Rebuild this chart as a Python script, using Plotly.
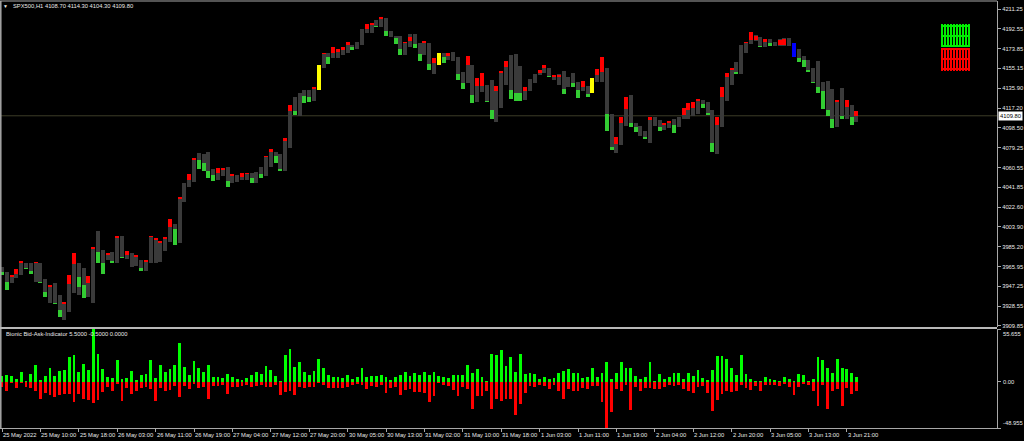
import plotly.graph_objects as go

# ---------------- data ----------------
symbol_title = "SPX500,H1 4108.70 4114.30 4104.30 4109.80"
indicator_title = "Bionic Bid-Ask-Indicator 5.5000 -0.5000 0.0000"
last_price = 4109.80

x_labels = ["25 May 2022", "25 May 10:00", "25 May 18:00", "26 May 03:00", "26 May 11:00",
            "26 May 19:00", "27 May 04:00", "27 May 12:00", "27 May 20:00", "30 May 05:00",
            "30 May 13:00", "31 May 02:00", "31 May 10:00", "31 May 18:00", "1 Jun 03:00",
            "1 Jun 11:00", "1 Jun 19:00", "2 Jun 04:00", "2 Jun 12:00", "2 Jun 20:00",
            "3 Jun 05:00", "3 Jun 13:00", "3 Jun 21:00"]
label_every = 8

price_ticks = [4211.25, 4192.55, 4173.85, 4155.15, 4135.90, 4117.20, 4098.50, 4079.25,
               4060.55, 4041.85, 4022.60, 4003.90, 3985.20, 3965.95, 3947.25, 3928.55, 3909.85]
ind_max = 55.655
ind_min = -48.955

high = [3966.1,3961.3,3958.2,3963.5,3971.5,3969.3,3969.3,3970.9,3969.9,3954.0,
        3948.6,3950.3,3939.1,3932.8,3958.2,3978.8,3969.3,3964.5,3957.2,3984.5,
        4000.1,3982.0,3978.8,3980.4,3995.3,3995.3,3981.3,3978.8,3977.2,3972.5,
        3972.5,3995.3,3993.1,3990.9,3994.0,4011.2,4006.7,4032.8,4045.5,4054.4,
        4069.3,4074.7,4073.4,4075.3,4058.8,4059.8,4059.8,4061.4,4054.4,4053.4,
        4055.0,4055.6,4055.6,4056.6,4060.7,4071.5,4077.9,4075.6,4073.4,4088.3,
        4120.1,4127.4,4131.8,4134.4,4134.4,4136.9,4158.2,4169.9,4169.3,4175.0,
        4173.1,4175.7,4180.4,4177.2,4180.4,4192.2,4197.2,4198.5,4201.1,4204.2,
        4202.6,4190.9,4185.8,4185.8,4180.4,4187.7,4187.7,4179.5,4181.4,4178.8,
        4164.5,4169.3,4169.9,4169.3,4170.9,4165.5,4151.8,4166.8,4158.2,4145.5,
        4150.3,4139.1,4143.9,4138.2,4152.8,4162.3,4167.7,4168.7,4157.2,4136.9,
        4144.5,4149.6,4153.4,4158.2,4155.0,4148.7,4149.6,4152.8,4146.4,4150.9,
        4142.3,4143.3,4138.2,4145.5,4154.1,4166.1,4155.0,4111.5,4089.9,4108.3,
        4127.4,4129.6,4103.3,4100.1,4095.6,4108.3,4108.3,4105.8,4103.3,4105.2,
        4106.4,4108.3,4116.9,4122.3,4123.3,4125.5,4124.9,4123.3,4115.3,4108.3,
        4136.9,4150.3,4155.0,4161.4,4177.2,4180.4,4189.9,4186.8,4185.2,4182.6,
        4182.6,4180.4,4182.6,4183.6,4183.6,4178.8,4173.1,4166.8,4163.0,4155.0,
        4162.3,4142.3,4143.3,4135.0,4124.9,4136.0,4124.9,4120.1,4114.3]

low = [3958.2,3943.9,3950.9,3955.0,3958.2,3963.5,3959.1,3951.8,3950.3,3937.5,
       3931.8,3930.5,3917.8,3915.3,3923.2,3940.7,3939.1,3935.9,3937.5,3931.2,
       3969.3,3959.1,3972.5,3969.9,3969.9,3974.0,3973.1,3966.1,3966.7,3962.3,
       3962.3,3969.3,3969.9,3970.9,3981.3,3989.9,3986.7,3989.0,4028.0,4041.7,
       4047.1,4058.8,4057.5,4050.2,4048.0,4048.7,4052.5,4042.3,4046.1,4047.1,
       4048.7,4048.7,4046.1,4046.1,4050.2,4052.5,4061.4,4065.2,4057.5,4057.5,
       4078.8,4110.6,4109.6,4122.3,4123.3,4124.2,4134.4,4155.0,4159.1,4164.5,
       4164.5,4167.7,4169.3,4172.5,4173.1,4177.2,4188.4,4189.0,4194.1,4194.1,
       4185.8,4184.5,4178.2,4167.7,4167.7,4175.0,4174.1,4162.3,4167.7,4153.4,
       4149.6,4158.2,4160.4,4163.0,4162.3,4143.9,4135.0,4140.8,4122.3,4123.3,
       4132.8,4123.3,4106.4,4104.2,4116.9,4139.1,4125.5,4124.2,4124.2,4124.9,
       4133.7,4140.8,4148.7,4150.3,4146.4,4143.9,4139.1,4130.6,4136.9,4136.9,
       4126.4,4133.7,4127.4,4131.2,4142.3,4142.3,4095.6,4077.2,4074.1,4082.0,
       4100.1,4099.5,4094.7,4090.6,4087.4,4084.2,4100.1,4095.6,4096.3,4097.9,
       4093.1,4098.8,4106.4,4106.4,4109.6,4111.5,4116.9,4110.6,4075.6,4073.4,
       4098.8,4124.2,4139.1,4149.6,4149.6,4169.9,4178.2,4181.4,4175.0,4175.7,
       4176.3,4176.3,4176.3,4176.3,4176.3,4165.5,4161.4,4156.6,4151.8,4140.8,
       4131.8,4116.0,4109.6,4097.9,4099.5,4106.4,4106.4,4101.0,4104.3]

# coloured part of each bar: g = green, r = red, y = yellow, b = blue, n = none
seg_color = ("ggrrrggrgg" "rggrrrggrr" "ggrgrgrnrg" "rrrrrrgrnr" "rggggrrgrn"
             "rrgngrrggr" "rgnggryrgr" "rrrgnnrrgr" "gnggrrggrg" "rygrnggrgr"
             "rggrrrgggr" "nnrrgrrgng" "grgyrrggrr" "rggngrngrr" "gnrrrrgggr"
             "rrrgnrrrgr" "gnrrnbgggg" "ggggrgrgr")

seg_top = [3961.3,3951.8,3958.2,3963.5,3971.5,3964.5,3962.3,3970.9,3951.8,3942.3,
           3948.6,3931.8,3924.8,3932.8,3958.2,3978.8,3956.6,3948.6,3957.2,3984.5,
           3980.4,3969.9,3978.8,3971.8,3995.3,3975.6,3981.3,None,3977.2,3965.2,
           3972.5,3995.3,3993.1,3990.9,3994.0,4011.2,4001.7,4032.8,None,4054.4,
           4069.3,4067.7,4065.2,4057.5,4053.4,4059.8,4059.8,4048.0,4054.4,None,
           4055.0,4055.6,4050.2,None,4054.4,4071.5,4077.9,4071.5,4058.8,4088.3,
           4120.1,4114.7,None,4128.7,4127.4,4136.9,4158.2,4169.9,4165.5,4175.0,
           4173.1,4175.7,4180.4,4175.0,None,None,4197.2,4198.5,4195.3,4204.2,
           4190.9,None,4183.6,4173.1,4180.4,4185.2,4178.2,4168.7,4181.4,4159.1,
           4164.5,4169.3,4165.5,4169.3,None,4149.6,4140.8,4166.8,4129.6,4145.5,
           4150.3,4124.2,4115.3,4138.2,4152.8,4162.3,4134.4,4131.8,4131.2,4136.9,
           None,None,4153.4,4158.2,4147.7,4148.7,4148.7,4135.0,None,4141.4,
           4134.4,4143.3,4130.6,4145.5,4154.1,4166.1,4111.5,4080.4,4089.9,4108.3,
           4127.4,4103.3,4099.5,None,4089.3,4108.3,None,4099.5,4103.3,4105.2,
           4101.0,None,4116.9,4122.3,4123.3,4125.5,4121.0,4112.2,4084.2,4108.3,
           4136.9,4150.3,4155.0,4151.8,None,4180.4,4189.9,4185.8,4176.3,4182.6,
           4178.8,None,4182.0,4182.6,None,4178.8,4164.5,4163.0,4153.4,4142.3,
           4136.9,4133.7,4115.3,4106.4,4124.9,4109.6,4124.9,4108.3,4114.3]

seg_bot = [3958.2,3943.9,3956.6,3959.1,3969.3,3963.5,3959.1,3969.3,3950.3,3937.5,
           3946.4,3930.5,3917.8,3930.5,3949.6,3968.6,3946.4,3935.9,3950.3,3982.6,
           3969.3,3959.1,3977.2,3969.9,3993.7,3974.0,3977.2,None,3975.6,3962.3,
           3970.9,3994.0,3991.5,3989.0,3992.1,4004.2,3986.7,4030.2,None,4048.7,
           4067.7,4058.8,4057.5,4050.2,4048.0,4055.6,4058.2,4042.3,4052.5,None,
           4051.8,4054.4,4046.1,None,4050.2,4070.2,4075.6,4065.2,4057.5,4086.1,
           4114.7,4110.6,None,4122.3,4123.3,4135.0,4134.4,4168.7,4159.1,4169.3,
           4170.9,4172.5,4177.2,4172.5,None,None,4192.2,4196.3,4194.1,4201.7,
           4185.8,None,4178.2,4167.7,4178.8,4181.4,4174.1,4162.3,4178.8,4153.4,
           4160.4,4158.2,4160.4,4166.8,None,4143.9,4135.0,4158.2,4122.3,4138.2,
           4138.2,4123.3,4106.4,4133.7,4150.9,4156.0,4125.5,4124.2,4124.2,4133.7,
           None,None,4150.9,4155.0,4146.4,4147.1,4146.4,4130.6,None,4136.9,
           4126.4,4137.6,4127.4,4131.2,4148.7,4151.8,4095.6,4077.2,4082.9,4102.6,
           4116.0,4099.5,4094.7,None,4087.4,4105.8,None,4095.6,4101.0,4103.3,
           4093.1,None,4110.6,4115.3,4116.9,4124.2,4116.9,4110.6,4075.6,4101.0,
           4127.4,4146.4,4153.4,4149.6,None,4178.8,4182.0,4182.0,4175.0,4180.4,
           4176.3,None,4177.2,4177.2,None,4165.5,4161.4,4156.6,4151.8,4140.8,
           4131.8,4116.0,4109.6,4097.9,4123.3,4106.4,4118.5,4101.0,4109.8]

bid_ask_buy = [6.1,7.1,6.1,2.5,10.7,0.5,8.2,17.1,1.8,6.1,
               14.2,6.1,11.7,12.5,25.6,28.5,10.7,18.9,12.5,55.6,
               29.5,13.2,4.6,3.6,23.1,2.5,3.6,11.4,1.8,7.1,
               8.2,23.1,4.3,17.1,10.7,13.2,17.8,40.9,15.3,7.1,
               21.4,14.2,10.7,17.8,5.3,5.3,3.6,8.2,4.6,2.5,
               1.8,3.6,7.1,10.7,8.2,16.7,12.5,6.1,0.3,28.5,
               34.9,16.0,20.3,10.7,7.1,11.7,23.9,14.2,7.1,4.6,
               5.3,3.6,7.1,2.5,5.3,14.2,4.6,6.1,6.1,7.1,
               4.6,1.8,4.6,7.1,10.7,6.1,8.9,7.1,10.7,7.1,
               10.7,6.1,5.3,3.6,7.1,7.1,7.1,17.1,8.9,13.2,
               4.6,0.3,29.5,28.5,33.8,16.7,26.0,10.7,29.5,8.2,
               8.9,8.2,2.5,4.6,2.5,3.6,8.9,11.7,13.2,9.6,
               9.6,3.6,4.6,14.2,5.3,8.9,20.6,2.5,8.9,20.6,
               14.2,14.2,6.1,2.5,4.6,20.6,0.3,8.2,2.5,4.6,
               9.6,9.6,2.5,8.9,6.1,12.5,3.6,1.8,12.5,27.4,
               27.4,23.9,14.2,7.1,27.8,8.2,2.5,0.3,1.1,4.6,
               2.5,1.8,0.3,4.6,2.5,0.3,8.2,7.1,0.3,2.5,
               26.0,22.4,14.2,9.6,23.9,14.2,13.2,8.9,4.6]

bid_ask_sell = [-5.3,-9.6,-1.8,-7.1,-1.8,-6.1,-7.1,-9.6,-17.8,-11.7,
                -14.2,-16.0,-14.2,-12.5,-12.5,-21.4,-12.5,-17.8,-19.6,-22.4,
                -18.9,-10.7,-6.1,-9.6,-2.5,-20.3,-7.1,-12.5,-9.6,-7.1,
                -5.3,-8.2,-20.3,-7.1,-9.6,-8.9,-4.6,-16.0,-4.6,-8.2,
                -2.5,-7.1,-6.1,-17.8,-4.6,-4.6,-3.6,-12.5,-5.3,-6.1,
                -4.6,-3.6,-6.1,-4.6,-3.6,-6.1,-6.1,-3.6,-14.2,-10.7,
                -9.6,-14.2,-6.1,-7.1,-6.1,-6.1,-1.8,-3.6,-7.1,-7.1,
                -7.1,-7.1,-5.3,-3.6,-2.5,-3.6,-8.2,-4.6,-6.1,-3.6,
                -11.7,-7.1,-5.3,-14.2,-8.9,-8.2,-10.7,-10.7,-11.7,-21.4,
                -15.3,-1.8,-3.6,-4.6,-8.9,-15.3,-5.3,-8.2,-28.5,-15.3,
                -15.3,-9.6,-28.5,-17.8,-20.3,-17.8,-17.8,-35.6,-23.9,-11.7,
                -4.6,-5.3,-3.6,-4.6,-8.2,-3.6,-9.6,-17.8,-8.2,-9.6,
                -9.6,-7.1,-8.2,-4.6,-4.6,-21.4,-48.9,-32.0,-8.2,-9.6,
                -3.6,-30.3,-6.1,-9.6,-7.1,-7.1,-8.2,-8.2,-6.1,-3.6,
                -4.6,-3.6,-8.2,-9.6,-11.7,-6.1,-4.6,-11.7,-31.0,-18.9,
                -13.2,-9.6,-10.7,-9.6,-3.6,-7.1,-8.9,-4.6,-9.6,-3.6,
                -3.6,-3.6,-4.6,-2.5,-6.1,-14.2,-5.3,-2.5,-3.6,-9.6,
                -26.0,-3.6,-28.5,-9.6,-8.2,-26.0,-7.1,-12.5,-9.6]

# ---------------- styling ----------------
W, H = 1024, 441
ML, MR, MT, MB = 0, 27, 1, 13
PLOT_H = H - MT - MB            # 427
MAIN_BOTTOM_PX = 327
SUB_TOP_PX = 329
FONT = "Liberation Sans, Arial, sans-serif"
FS = 5.8
TXT = "#e8e8e8"
FRAME = "#a8a8a8"


def py(pixel_y):
    """convert a page pixel row to paper y"""
    return (H - MB - pixel_y) / PLOT_H


def px(pixel_x):
    return (pixel_x - ML) / (W - ML - MR)


n = len(high)
idx = list(range(n))

fig = go.Figure()

# grey range bars (high-low)
fig.add_trace(go.Bar(
    x=idx, y=[h - l for h, l in zip(high, low)], base=low, width=0.8,
    marker=dict(color="#3a3a3a", line=dict(width=0)), xaxis="x", yaxis="y",
    hoverinfo="skip"))

# coloured parts
color_map = {"g": "#33cc33", "r": "#ff0000", "y": "#ffff00", "b": "#0000ff"}
for code, col in color_map.items():
    xs = [i for i in idx if seg_color[i] == code and seg_top[i] is not None]
    fig.add_trace(go.Bar(
        x=xs, y=[seg_top[i] - seg_bot[i] for i in xs], base=[seg_bot[i] for i in xs],
        width=0.8, marker=dict(color=col, line=dict(width=0)),
        xaxis="x", yaxis="y", hoverinfo="skip"))

# indicator histogram
fig.add_trace(go.Bar(x=idx, y=bid_ask_buy, width=0.62,
                     marker=dict(color="#00ff00", line=dict(width=0)),
                     xaxis="x", yaxis="y2", hoverinfo="skip"))
fig.add_trace(go.Bar(x=idx, y=bid_ask_sell, width=0.62,
                     marker=dict(color="#ff0000", line=dict(width=0)),
                     xaxis="x", yaxis="y2", hoverinfo="skip"))

label_pos = [k * label_every for k in range(len(x_labels))]

x_lo = -0.417
x_hi = 207.29

fig.update_layout(
    width=W, height=H,
    margin=dict(l=ML, r=MR, t=MT, b=MB, pad=0, autoexpand=False),
    paper_bgcolor="#000000", plot_bgcolor="#000000",
    showlegend=False, barmode="overlay", bargap=0,
    font=dict(family=FONT, size=FS, color=TXT),
    xaxis=dict(domain=[0, 1], range=[x_lo, x_hi], anchor="y2",
               tickvals=label_pos, ticks="outside", ticklen=3, tickcolor=FRAME,
               showticklabels=False, showgrid=False, zeroline=False,
               showline=True, linecolor=FRAME, linewidth=1, fixedrange=True),
    yaxis=dict(domain=[py(MAIN_BOTTOM_PX), 1], range=[3908.6, 4219.15], anchor="x",
               side="right", tickvals=price_ticks,
               ticktext=[f"{v:.2f}" for v in price_ticks],
               ticks="outside", ticklen=3, tickcolor=FRAME,
               tickfont=dict(size=FS, color=TXT, family=FONT),
               showgrid=False, zeroline=False, showline=True, linecolor=FRAME,
               fixedrange=True, automargin=False),
    yaxis2=dict(domain=[0, py(SUB_TOP_PX)], range=[ind_min, ind_max], anchor="x",
                side="right", tickvals=[ind_max, 0, ind_min], ticks="outside",
                ticklen=3, tickcolor=FRAME, showticklabels=False,
                showgrid=False, zeroline=False, showline=True, linecolor=FRAME,
                fixedrange=True),
)

shapes = []
# last-price line
shapes.append(dict(type="line", xref="paper", x0=0, x1=1, yref="y",
                   y0=last_price, y1=last_price, line=dict(color="#3c3c28", width=1),
                   layer="below"))
# frame lines
shapes.append(dict(type="line", xref="paper", x0=0, x1=1, yref="paper", y0=1, y1=1,
                   line=dict(color=FRAME, width=1)))
shapes.append(dict(type="line", xref="paper", x0=0.0008, x1=0.0008, yref="paper",
                   y0=0, y1=1, line=dict(color=FRAME, width=1.5)))
shapes.append(dict(type="rect", xref="paper", x0=0, x1=1, yref="paper",
                   y0=py(SUB_TOP_PX), y1=py(MAIN_BOTTOM_PX),
                   fillcolor="#b8b8b8", line=dict(width=0)))

# indicator signal glyph block (top right)
glyph_x = [942, 945, 948, 951, 954, 957, 960, 963, 966, 969]
for gx in glyph_x:
    shapes.append(dict(type="line", xref="paper", x0=px(gx), x1=px(gx), yref="paper",
                       y0=py(24), y1=py(47), line=dict(color="#00ee00", width=2)))
    shapes.append(dict(type="line", xref="paper", x0=px(gx), x1=px(gx), yref="paper",
                       y0=py(48), y1=py(71), line=dict(color="#ff0000", width=2)))
for gy, gc in [(26, "#00ee00"), (36, "#00ee00"), (46, "#00ee00"),
               (49, "#ff0000"), (59, "#ff0000"), (69, "#ff0000")]:
    shapes.append(dict(type="line", xref="paper", x0=px(941), x1=px(970), yref="paper",
                       y0=py(gy), y1=py(gy), line=dict(color=gc, width=2)))
fig.update_layout(shapes=shapes)

ann = []
# x tick labels, left-aligned at their tick like the terminal
for p, lab in zip(label_pos, x_labels):
    ann.append(dict(x=p, xref="x", y=py(435), yref="paper", text=lab,
                    showarrow=False, xanchor="left", yanchor="middle", xshift=-1,
                    font=dict(size=FS, color=TXT, family=FONT)))
# titles
ann.append(dict(x=px(5), xref="paper", y=py(6), yref="paper", text="▼",
                showarrow=False, xanchor="center", yanchor="middle",
                font=dict(size=5, color=TXT)))
ann.append(dict(x=px(11), xref="paper", y=py(6), yref="paper", text=symbol_title,
                showarrow=False, xanchor="left", yanchor="middle",
                font=dict(size=FS, color=TXT, family=FONT)))
ann.append(dict(x=px(4), xref="paper", y=py(334), yref="paper", text=indicator_title,
                showarrow=False, xanchor="left", yanchor="middle",
                font=dict(size=FS, color=TXT, family=FONT)))
# current price tag
ann.append(dict(x=1, xref="paper", y=last_price, yref="y", text=f"{last_price:.2f}",
                showarrow=False, xanchor="left", yanchor="middle", xshift=1,
                bgcolor="#ffffff", borderpad=1,
                font=dict(size=FS, color="#000000", family=FONT)))
# indicator scale labels
ann.append(dict(x=1, xref="paper", y=ind_max, yref="y2", text=f"{ind_max:.3f}",
                showarrow=False, xanchor="left", yanchor="top", xshift=4, yshift=0,
                font=dict(size=FS, color=TXT, family=FONT)))
ann.append(dict(x=1, xref="paper", y=0, yref="y2", text="0.00",
                showarrow=False, xanchor="left", yanchor="middle", xshift=4,
                font=dict(size=FS, color=TXT, family=FONT)))
ann.append(dict(x=1, xref="paper", y=ind_min, yref="y2", text=f"{ind_min:.3f}",
                showarrow=False, xanchor="left", yanchor="bottom", xshift=4,
                font=dict(size=FS, color=TXT, family=FONT)))
fig.update_layout(annotations=ann)

fig.write_html("out.html", config={"displayModeBar": False, "staticPlot": True},
               post_script="document.body.style.margin='0px';"
                           "document.body.style.overflow='hidden';")
